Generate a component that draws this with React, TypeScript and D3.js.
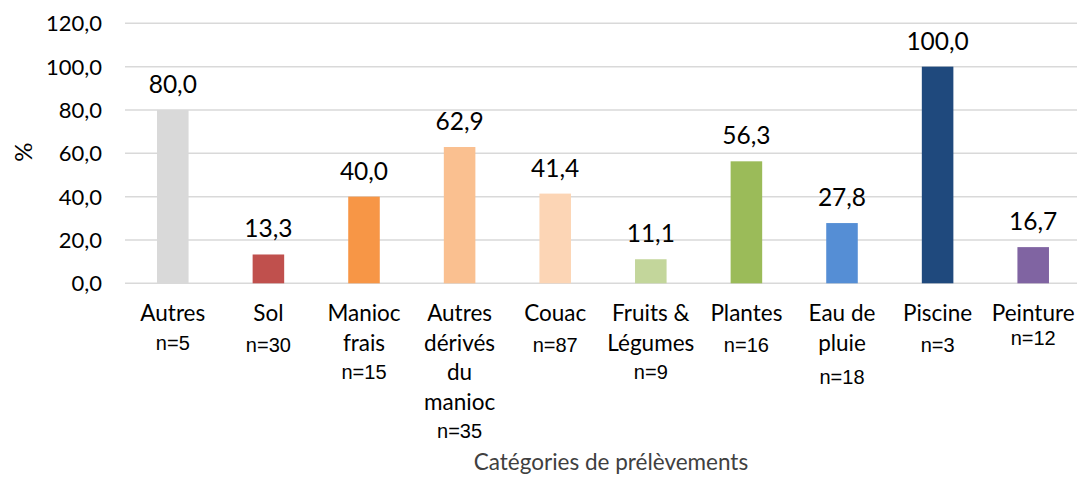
import React from 'react';
import * as d3 from 'd3';

// data
const categories = [
  ['Autres'],
  ['Sol'],
  ['Manioc', 'frais'],
  ['Autres', 'dérivés', 'du', 'manioc'],
  ['Couac'],
  ['Fruits &', 'Légumes'],
  ['Plantes'],
  ['Eau de', 'pluie'],
  ['Piscine'],
  ['Peinture'],
];
const sampleSizes = [5, 30, 15, 35, 87, 9, 16, 18, 3, 12];
const percentages = [80.0, 13.3, 40.0, 62.9, 41.4, 11.1, 56.3, 27.8, 100.0, 16.7];
const barColors = ['#d9d9d9', '#c0504d', '#f79646', '#fac090', '#fcd5b5', '#c3d69b', '#9bbb59', '#558ed5', '#1f497d', '#8064a2'];
const yTicks = [0, 20, 40, 60, 80, 100, 120];

// small vertical nudges of the n= labels, as placed in the original
const nShift = [0, 2, 0, 0, 2, 0, 2, 5, 2, -5];

const width = 1077;
const height = 477;
const margin = { top: 23, right: -4, bottom: 194, left: 125 };

const fmt = (v: number) => v.toFixed(1).replace('.', ',');

const App = () => {
  const keys = categories.map((_, i) => String(i));
  const x = d3.scaleBand<string>()
    .domain(keys)
    .range([margin.left, width - margin.right])
    .paddingInner(0.67)
    .paddingOuter(0.335);
  const y = d3.scaleLinear()
    .domain([0, 120])
    .range([height - margin.bottom + 0.3, margin.top + 0.3]);

  const font = 'Lato, "Open Sans", sans-serif';
  const nFont = '"Liberation Sans", Arial, sans-serif';
  const lineH = 29.5;

  return (
    <svg width={width} height={height} style={{ display: 'block', position: 'absolute', left: 0, top: 0 }}>
      <rect width={width} height={height} fill="#fff" />
      {yTicks.map(t => (
        <g key={t}>
          <line x1={margin.left} x2={width} y1={y(t)} y2={y(t)} stroke="#d9d9d9" strokeWidth={1.5} />
          <text x={102} y={y(t)} dy="0.36em" textAnchor="end" fontFamily={font} fontSize={22} fill="#000">
            {fmt(t)}
          </text>
        </g>
      ))}
      {percentages.map((v, i) => {
        const bx = x(keys[i])!;
        const cx = bx + x.bandwidth() / 2;
        return (
          <g key={i}>
            <rect x={bx} y={y(v)} width={x.bandwidth()} height={y(0) - y(v)} fill={barColors[i]} />
            <text x={cx} y={y(v) - 17} textAnchor="middle" fontFamily={font} fontSize={24.5} fill="#000">
              {fmt(v)}
            </text>
          </g>
        );
      })}
      {categories.map((lines, i) => {
        const cx = x(keys[i])! + x.bandwidth() / 2;
        const base = 321;
        return (
          <g key={i}>
            {lines.map((ln, j) => (
              <text key={j} x={cx} y={base + j * lineH} textAnchor="middle" fontFamily={font} fontSize={22.5} fill="#000">
                {ln}
              </text>
            ))}
            <text x={cx} y={base + lines.length * lineH + nShift[i] - 1} textAnchor="middle" fontFamily={nFont} fontSize={20} fill="#000">
              {`n=${sampleSizes[i]}`}
            </text>
          </g>
        );
      })}
      <text x={611} y={470} textAnchor="middle" fontFamily={font} fontSize={22.5} fill="#404040">
        Catégories de prélèvements
      </text>
      <text transform={`translate(32,${152}) rotate(-90)`} textAnchor="middle" fontFamily={font} fontSize={24} fill="#000">
        %
      </text>
    </svg>
  );
};

export default App;
